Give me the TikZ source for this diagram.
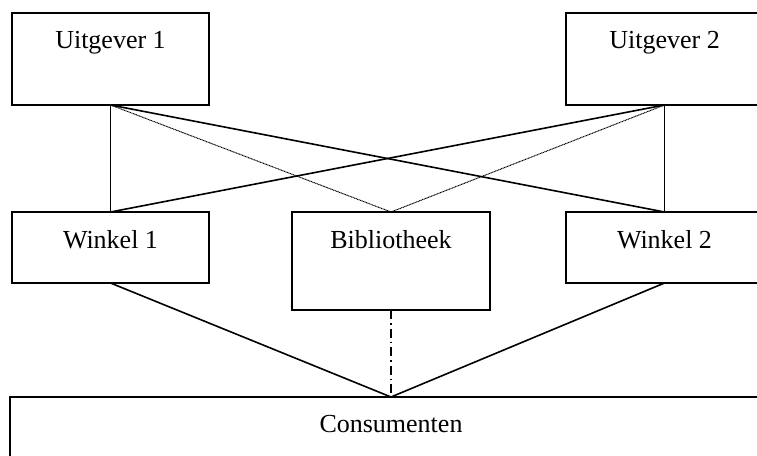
\documentclass[tikz,border=0pt]{standalone}
\usepackage{fontspec}
\setmainfont{Liberation Serif}
\usepackage{tikz}
\usetikzlibrary{positioning}

\begin{document}
\begin{tikzpicture}[
    x=1pt, y=-1pt,
    box/.style={draw, line width=1.8pt, outer sep=0pt,
                minimum width=197pt, inner sep=0pt,
                font=\fontsize{26}{30}\selectfont},
    link/.style={line width=1.6pt},
    thin link/.style={line width=1pt, dash pattern=on 1pt off 0.6pt},
    dashdot link/.style={line width=1.3pt,
                dash pattern=on 9pt off 4pt on 1.5pt off 4pt},
]
\useasboundingbox (0,0) rectangle (757,455);

% publishers
\node[box, anchor=north, text height=35pt, text depth=57pt]
    (uit1) at (110.5,13) {Uitgever 1};
\node[box, anchor=north, text height=35pt, text depth=57pt]
    (uit2) at (664.5,13) {Uitgever 2};

% shops and library
\node[box, anchor=north, text height=36pt, text depth=35pt]
    (win1) at (110.5,212) {Winkel 1};
\node[box, anchor=north, text height=36pt, text depth=62pt,
      minimum width=198pt] (bib) at (391,212) {Bibliotheek};
\node[box, anchor=north, text height=36pt, text depth=35pt]
    (win2) at (664.5,212) {Winkel 2};

% consumers
\node[box, anchor=north, text height=35pt, text depth=45pt,
      minimum width=762pt] (cons) at (391,397) {Consumenten};

% publishers to shops
\draw[link] (uit1.south) -- (win1.north);
\draw[link] (uit1.south) -- (win2.north);
\draw[link] (uit2.south) -- (win2.north);
\draw[link] (uit2.south) -- (win1.north);
\draw[thin link] (uit1.south) -- (bib.north);
\draw[thin link] (uit2.south) -- (bib.north);

% shops to consumers
\draw[link] (win1.south) -- (cons.north);
\draw[link] (win2.south) -- (cons.north);
\draw[dashdot link] (bib.south) -- (cons.north);
\end{tikzpicture}
\end{document}
